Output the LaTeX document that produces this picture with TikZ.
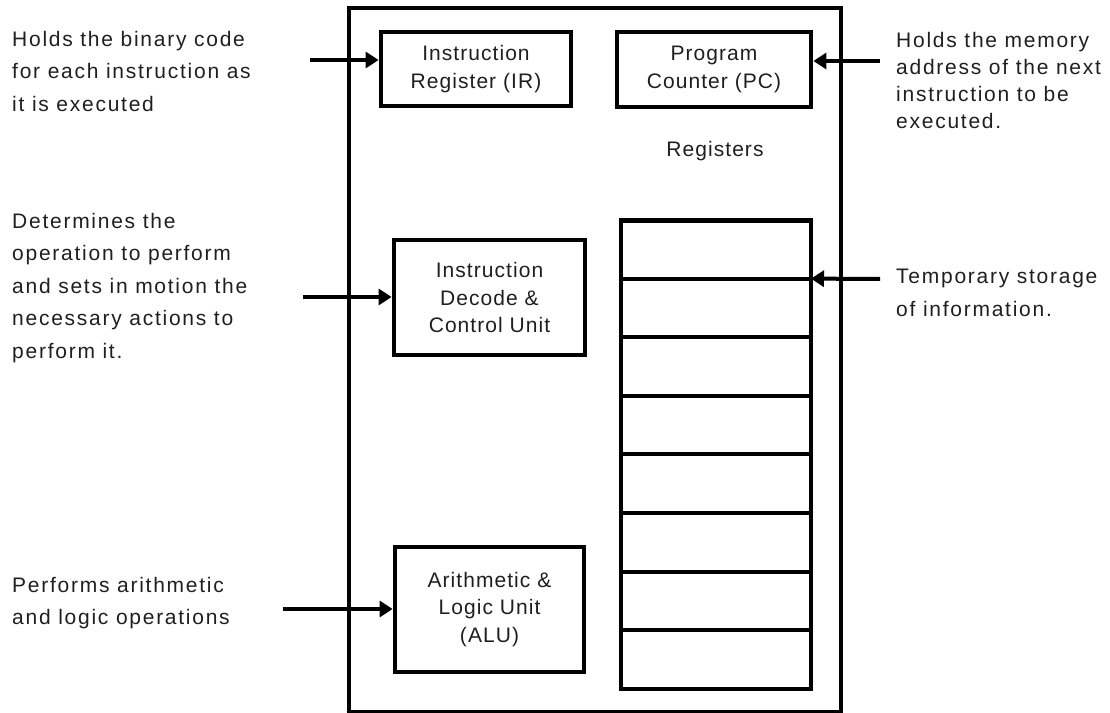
\documentclass[tikz,border=0pt]{standalone}
\usepackage{fontspec}
\setmainfont{Liberation Sans}[LetterSpace=8.3]
\newfontfamily\unitfont{Liberation Sans}[LetterSpace=5]
\usetikzlibrary{arrows.meta,positioning}
\begin{document}
\begin{tikzpicture}[x=1pt,y=-1pt,
  txt/.style={inner sep=0pt,align=left,anchor=west,text=black!88,font=\fontsize{21}{32.5}\selectfont},
  txtb/.style={inner sep=0pt,align=left,anchor=west,text=black!88,font=\fontsize{21}{27}\selectfont},
  unit/.style={draw,line width=4.8pt,align=center,inner sep=0pt,text=black!88,font=\unitfont\fontsize{21}{27.5}\selectfont},
  reg/.style={draw,line width=4pt,minimum width=190pt,minimum height=58.6pt,inner sep=0pt,outer sep=0pt},
  arr/.style={line width=4pt,-{Triangle[length=13pt,width=16pt]}}]
\useasboundingbox (0,0) rectangle (1110,712);
% outer box
\draw[line width=4pt] (349,8) rectangle (841,712);
% units
\node[unit,minimum width=190pt,minimum height=74pt] (ir) at (476,69) {Instruction\\Register (IR)};
\node[unit,minimum width=194pt,minimum height=75pt] (pc) at (714,69.5) {Program\\Counter (PC)};
\node[inner sep=0pt,text=black!88,font=\unitfont\fontsize{21}{27}\selectfont] (rl) at (715,151) {Registers};
\node[unit,minimum width=191pt,minimum height=115pt] (idc) at (489.5,297.5) {Instruction\\Decode \&\\Control Unit};
\node[unit,minimum width=189pt,minimum height=125pt] (alu) at (489.5,609.5) {Arithmetic \&\\Logic Unit\\(ALU)};
% register stack
\node[reg,anchor=north] (r1) at (716,220) {};
\node[reg,below=0pt of r1] (r2) {};
\node[reg,below=0pt of r2] (r3) {};
\node[reg,below=0pt of r3] (r4) {};
\node[reg,below=0pt of r4] (r5) {};
\node[reg,below=0pt of r5] (r6) {};
\node[reg,below=0pt of r6] (r7) {};
\node[reg,below=0pt of r7] (r8) {};
\draw[line width=5pt] (r1.north west) -- (r1.north east);
% descriptions
\node[txt] (dir) at (12,71) {Holds the binary code\\for each instruction as\\it is executed};
\node[txtb] (dpc) at (896,80) {Holds the memory\\address of the next\\instruction to be\\executed.};
\node[txt] (didc) at (12,288) {Determines the\\operation to perform\\and sets in motion the\\necessary actions to\\perform it.};
\node[txt] (dreg) at (896,293) {Temporary storage\\of information.};
\node[txt] (dalu) at (12,603) {Performs arithmetic\\and logic operations};
% arrows
\coordinate (air) at (310,60);
\coordinate (apc) at (880,61);
\coordinate (aidc) at (303,297);
\coordinate (areg) at (880,279);
\coordinate (aalu) at (283,609);
\draw[arr] (air) -- (air -| ir.west);
\draw[arr] (apc) -- (apc -| pc.east);
\draw[arr] (aidc) -- (aidc -| idc.west);
\draw[arr] (areg) -- (r1.south east);
\draw[arr] (aalu) -- (aalu -| alu.west);
\end{tikzpicture}
\end{document}
